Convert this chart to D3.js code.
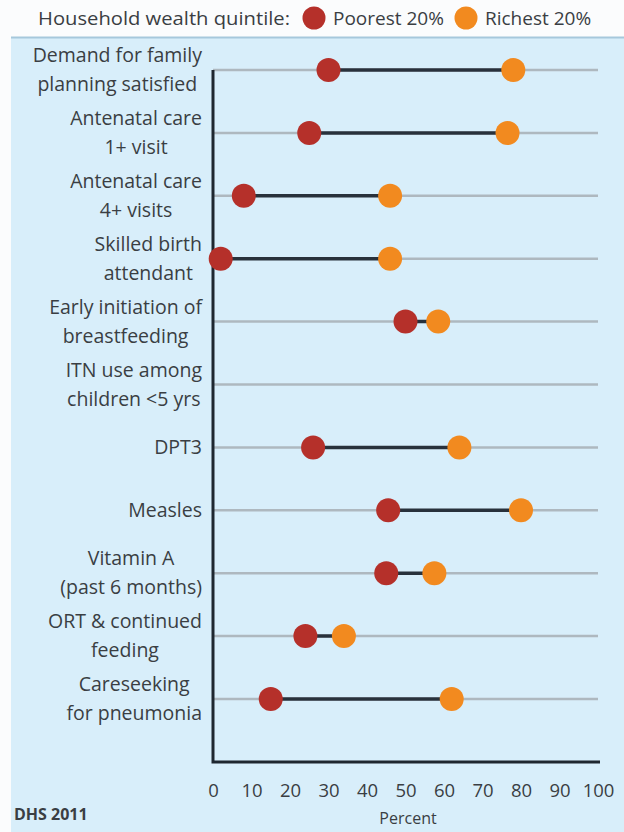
<!DOCTYPE html>
<html><head><meta charset="utf-8">
<script src="https://cdn.jsdelivr.net/npm/d3@7"></script>
<style>body{margin:0;background:#fff}svg{display:block}text{font-family:"Open Sans",sans-serif}</style>
</head><body><svg id="c" width="624" height="832"></svg>
<script>
const categories = [
  ["Demand for family","planning satisfied"],
  ["Antenatal care","1+ visit"],
  ["Antenatal care","4+ visits"],
  ["Skilled birth","attendant"],
  ["Early initiation of","breastfeeding"],
  ["ITN use among","children <5 yrs"],
  ["DPT3"],
  ["Measles"],
  ["Vitamin A","(past 6 months)"],
  ["ORT & continued","feeding"],
  ["Careseeking","for pneumonia"]
];
const poorest = [30, 25, 8, 2, 50, null, 26, 45.5, 45, 24, 15];
const richest = [78, 76.5, 46, 46, 58.5, null, 64, 80, 57.5, 34, 62];
const ticks = [0,10,20,30,40,50,60,70,80,90,100];
const seriesNames = ["Poorest 20%","Richest 20%"];
const colors = ["#b5302a","#f28a1f"];

const svg = d3.select("#c");
svg.append("rect").attr("x",0).attr("y",0).attr("width",624).attr("height",832).attr("fill","#fbfcfd");
svg.append("rect").attr("x",11).attr("y",37).attr("width",613).attr("height",795).attr("fill","#d8eefa");
svg.append("line").attr("x1",11).attr("x2",624).attr("y1",37.5).attr("y2",37.5).attr("stroke","#a6c8dc").attr("stroke-width",2);

// legend
const lg = svg.append("g").attr("fill","#3a3e43").attr("font-size",19);
lg.append("text").attr("x",290).attr("y",25).attr("text-anchor","end").attr("textLength",252).attr("lengthAdjust","spacingAndGlyphs").text("Household wealth quintile:");
lg.append("circle").attr("cx",314).attr("cy",18).attr("r",11.5).attr("fill",colors[0]);
lg.append("text").attr("x",333).attr("y",25).text(seriesNames[0]);
lg.append("circle").attr("cx",466).attr("cy",18).attr("r",11.5).attr("fill",colors[1]);
lg.append("text").attr("x",485).attr("y",25).text(seriesNames[1]);

const x = d3.scaleLinear().domain([0,100]).range([213,598]);
const y = d3.scalePoint().domain(d3.range(categories.length)).range([70,699]);

svg.append("g").selectAll("line").data(categories).join("line")
  .attr("x1",x(0)).attr("x2",x(100)).attr("y1",(d,i)=>y(i)).attr("y2",(d,i)=>y(i))
  .attr("stroke","#aeb8bf").attr("stroke-width",2.5);

svg.append("path").attr("d",`M${x(0)},70 V762 H${x(100)+2}`).attr("fill","none").attr("stroke","#1e2730").attr("stroke-width",3);

const xa = svg.append("g").attr("transform","translate(0,762)")
  .call(d3.axisBottom(x).tickValues(ticks).tickSize(0).tickPadding(22));
xa.select(".domain").remove();
xa.selectAll("text").attr("font-size",18.5).attr("fill","#3a3e43").attr("font-family","Open Sans");

svg.append("text").attr("x",408).attr("y",824).attr("text-anchor","middle").attr("font-size",16).attr("fill","#3a3e43").text("Percent");
svg.append("text").attr("x",14).attr("y",820).attr("font-size",16).attr("font-weight","bold").attr("fill","#3a3e43").text("DHS 2011");

const lab = svg.append("g").attr("fill","#3a3e43").attr("font-size",19.5);
categories.forEach((lines,i)=>{
  const g = lab.append("g");
  const n = lines.length;
  const ts = lines.map((t,j)=> g.append("text")
      .attr("y", y(i) + (n===1 ? 7 : (j===0 ? -8 : 21)))
      .attr("text-anchor","middle").text(t));
  const w = d3.max(ts, t=>t.node().getComputedTextLength());
  ts.forEach(t=>t.attr("x", 202 - w/2));
});

const rows = categories.map((c,i)=>({i,p:poorest[i],r:richest[i]})).filter(d=>d.p!=null);
svg.append("g").selectAll("line").data(rows).join("line")
  .attr("x1",d=>x(d.p)).attr("x2",d=>x(d.r)).attr("y1",d=>y(d.i)).attr("y2",d=>y(d.i))
  .attr("stroke","#28313b").attr("stroke-width",3.5);
svg.append("g").selectAll("circle").data(rows).join("circle")
  .attr("cx",d=>x(d.p)).attr("cy",d=>y(d.i)).attr("r",12).attr("fill",colors[0]);
svg.append("g").selectAll("circle").data(rows).join("circle")
  .attr("cx",d=>x(d.r)).attr("cy",d=>y(d.i)).attr("r",12).attr("fill",colors[1]);
</script></body></html>
